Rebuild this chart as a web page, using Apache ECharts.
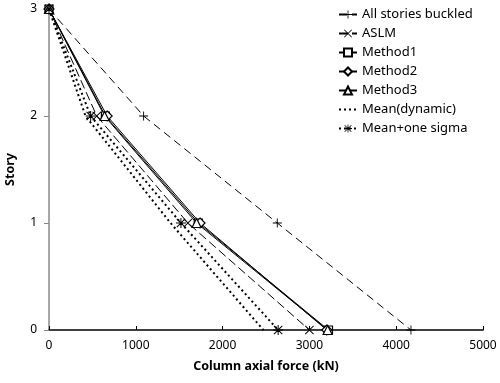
<!DOCTYPE html>
<html><head><meta charset="utf-8">
<script src="https://cdn.jsdelivr.net/npm/echarts@6/dist/echarts.min.js"></script>
<style>html,body{margin:0;padding:0;background:#fff}#c{width:500px;height:383px}</style>
</head><body><div id="c"></div>
<script>
const stories = [3, 2, 1, 0];
const allBuckled = [0, 1090, 2630, 4170];
const aslm = [0, 550, 1600, 3000];
const method1 = [0, 650, 1720, 3220];
const method2 = [0, 670, 1740, 3200];
const method3 = [0, 640, 1700, 3210];
const meanDyn = [0, 420, 1400, 2470];
const meanSigma = [0, 480, 1520, 2640];
const xTicks = [0, 1000, 2000, 3000, 4000, 5000];

const PLUS = 'path://M4.5,0h1v4.5h4.5v1h-4.5v4.5h-1v-4.5h-4.5v-1h4.5z';
const CROSS = 'path://M0.7,0L5,4.3L9.3,0L10,0.7L5.7,5L10,9.3L9.3,10L5,5.7L0.7,10L0,9.3L4.3,5L0,0.7Z';
const STAR = 'path://M4.5,0h1v4.5h4.5v1h-4.5v4.5h-1v-4.5h-4.5v-1h4.5zM1.2,0.5L5,4.3L8.8,0.5L9.5,1.2L5.7,5L9.5,8.8L8.8,9.5L5,5.7L1.2,9.5L0.5,8.8L4.3,5L0.5,1.2Z';

function mk(xs){ return xs.map((v,i)=>[v, stories[i]]); }
function s(name, xs, symbol, size, lineType, width, filled){
  return {
    name, type:'line', data: mk(xs), symbol, symbolSize:size, showSymbol: symbol !== 'none',
    lineStyle:{color:'#000', width:width, type:lineType},
    itemStyle: filled ? {color:'#000', borderWidth:0} : {color:'#fff', borderColor:'#000', borderWidth:1.2},
    emphasis:{disabled:true}, animation:false
  };
}
const chart = echarts.init(document.getElementById('c'));
chart.setOption({
  animation:false,
  grid:{left:49, right:17, top:9, bottom:53, containLabel:false, outerBoundsMode:'none'},
  legend:{
    orient:'vertical', left:333, top:3, itemGap:6, itemWidth:18, itemHeight:10,
    textStyle:{fontSize:13, color:'#000', fontFamily:'Noto Sans'},
    data:['All stories buckled','ASLM','Method1','Method2','Method3',
      {name:'Mean(dynamic)', itemStyle:{color:'rgba(0,0,0,0)', opacity:0}},
      'Mean+one sigma']
  },
  xAxis:{
    type:'value', min:0, max:5000, interval:1000,
    name:'Column axial force (kN)', nameLocation:'middle', nameGap:30,
    nameTextStyle:{fontSize:12.5, fontWeight:'bold', color:'#000', fontFamily:'Noto Sans'},
    axisLine:{lineStyle:{color:'#000', width:1.5}},
    axisTick:{inside:true, length:4, lineStyle:{color:'#000'}},
    axisLabel:{fontSize:12, color:'#000', margin:10, fontFamily:'Noto Sans', formatter:v=>String(v)},
    splitLine:{show:false}
  },
  yAxis:{
    type:'value', min:0, max:3, interval:1,
    name:'Story', nameLocation:'middle', nameGap:32, nameRotate:90,
    nameTextStyle:{fontSize:12.5, fontWeight:'bold', color:'#000', fontFamily:'Noto Sans'},
    axisLine:{show:true, lineStyle:{color:'#888', width:1.5}},
    axisTick:{show:true, length:5, lineStyle:{color:'#888'}},
    axisLabel:{fontSize:12, color:'#000', margin:12, fontFamily:'Noto Sans'},
    splitLine:{show:false}
  },
  series:[
    s('All stories buckled', allBuckled, PLUS, 9, [8,5], 1, true),
    s('ASLM', aslm, CROSS, 9, [9,4], 1, true),
    s('Method1', method1, 'rect', 8, 'solid', 1, false),
    s('Method2', method2, 'diamond', 10, 'solid', 1, false),
    s('Method3', method3, 'triangle', 9, 'solid', 1, false),
    s('Mean(dynamic)', meanDyn, 'none', 0, [2,3], 2, true),
    s('Mean+one sigma', meanSigma, STAR, 10, [2,3], 2, true)
  ]
});
</script></body></html>
